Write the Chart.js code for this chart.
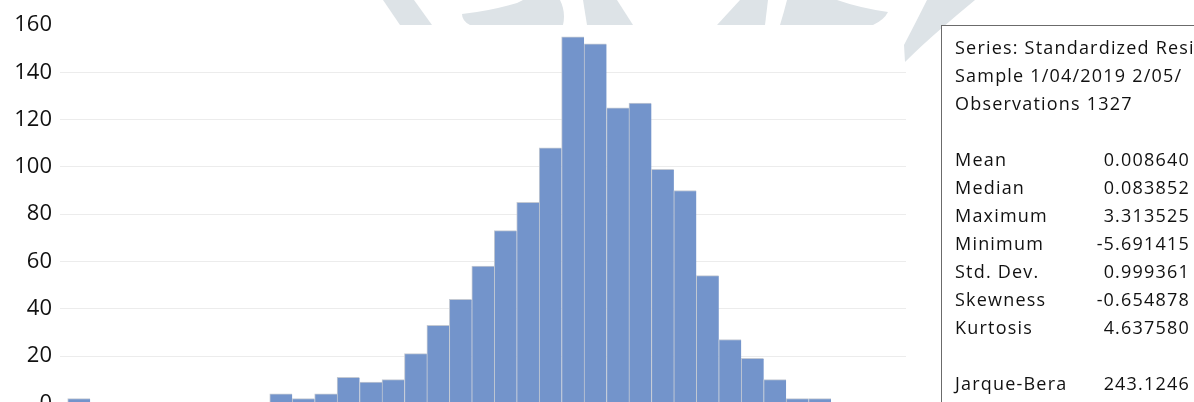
<!DOCTYPE html>
<html>
<head>
<meta charset="utf-8">
<script src="https://cdn.jsdelivr.net/npm/chart.js@4.4.1/dist/chart.umd.min.js"></script>
<style>
  html, body { margin: 0; padding: 0; width: 1194px; height: 402px; overflow: hidden; background: #fff; }
  #logo { position: absolute; left: 0; top: 0; }
  #cover { position: absolute; left: 0; top: 25px; width: 903px; height: 400px; background: #fff; }
  #wrap { position: absolute; left: 0; top: 0; width: 1194px; height: 440px; }
  #stats {
    position: absolute; left: 941px; top: 25px; width: 300px; height: 420px;
    border: 1px solid #6b6b6b; background: #fff;
    font-family: 'Open Sans', sans-serif; font-size: 18px; line-height: 28px; color: #111;
    letter-spacing: 1.2px;
    padding-top: 7px; box-sizing: border-box; white-space: nowrap;
  }
  #stats .row { position: relative; width: 248px; height: 28px; padding-left: 13px; box-sizing: border-box; }
  #stats .row span.v { position: absolute; right: 0; top: 0; }
</style>
</head>
<body>
<!-- faint logo watermark behind the chart -->
<svg id="logo" width="1194" height="80">
  <g fill="#dde3e7">
    <polygon points="383,0 414,0 432,25 400,25"/>
    <path d="M462,14 Q490,11 517,3 L523,0 L560,0 Q566,12 563,25 L470,25 Q462,21 462,14 Z"/>
    <polygon points="583,0 617,0 633,25 587,25"/>
    <polygon points="740,0 768,0 765,25 717,25"/>
    <path d="M787,0 L837,0 Q860,8 888,12 Q884,20 873,25 L780,25 Q784,12 787,0 Z"/>
    <path d="M927,0 L975,0 Q958,14 943,27 Q922,45 905,62 L904,45 Q916,22 927,0 Z"/>
  </g>
</svg>
<div id="cover"></div>
<div id="wrap"><canvas id="hist"></canvas></div>
<div id="stats"></div>

<script>
// histogram bins (index) and counts
const bins = [0, 1, 2, 3, 4, 5, 6, 7, 8, 9, 10, 11, 12, 13, 14, 15, 16,
  17, 18, 19, 20, 21, 22, 23, 24, 25, 26, 27, 28, 29, 30, 31, 32, 33];
const counts = [2, 0, 0, 0, 0, 0, 0, 0, 0, 4, 2, 4, 11, 9, 10, 21, 33,
  44, 58, 73, 85, 108, 155, 152, 125, 127, 99, 90, 54, 27, 19, 10, 2, 2];
const yTicks = [0, 20, 40, 60, 80, 100, 120, 140, 160];

const headerLines = ['Series: Standardized Residuals', 'Sample 1/04/2019 2/05/', 'Observations 1327'];
const statNames = ['Mean', 'Median', 'Maximum', 'Minimum', 'Std. Dev.', 'Skewness', 'Kurtosis'];
const statValues = ['0.008640', '0.083852', '3.313525', '-5.691415', '0.999361', '-0.654878', '4.637580'];
const testNames = ['Jarque-Bera'];
const testValues = ['243.1246'];

function buildStats() {
  const box = document.getElementById('stats');
  const addRow = (label, value) => {
    const row = document.createElement('div');
    row.className = 'row';
    row.textContent = label;
    if (value !== undefined) {
      const v = document.createElement('span');
      v.className = 'v';
      v.textContent = value;
      row.appendChild(v);
    }
    box.appendChild(row);
  };
  headerLines.forEach(l => addRow(l));
  addRow('');
  statNames.forEach((n, i) => addRow(n, statValues[i]));
  addRow('');
  testNames.forEach((n, i) => addRow(n, testValues[i]));
}

function createChart() {
  const ctx = document.getElementById('hist').getContext('2d');
  new Chart(ctx, {
    type: 'bar',
    data: {
      datasets: [{
        data: bins.map((b, i) => ({ x: b, y: counts[i] })),
        backgroundColor: '#7394cb',
        borderColor: '#c3c9d3',
        borderWidth: { top: 1, left: 1, right: 0, bottom: 0 },
        borderSkipped: false,
        categoryPercentage: 1,
        barPercentage: 1
      }]
    },
    options: {
      responsive: true,
      maintainAspectRatio: false,
      animation: false,
      layout: { padding: { left: 0, right: 288, top: 25, bottom: 36.7 } },
      scales: {
        x: {
          type: 'linear',
          bounds: 'data',
          offset: false,
          min: -0.843,
          max: 36.84,
          display: false,
          afterBuildTicks: s => { s.ticks = bins.map(v => ({ value: v })); }
        },
        y: {
          min: yTicks[0],
          max: yTicks[yTicks.length - 1],
          afterFit: s => { s.width = 60; },
          afterBuildTicks: s => { s.ticks = yTicks.map(v => ({ value: v })); },
          border: { display: false },
          grid: {
            drawTicks: false,
            lineWidth: 1,
            color: c => (c.tick && c.tick.value === 160) ? 'rgba(0,0,0,0)' : '#ececec'
          },
          ticks: {
            padding: 8,
            color: '#111',
            font: { family: 'Open Sans', size: 22 }
          }
        }
      },
      plugins: {
        legend: { display: false },
        tooltip: { enabled: false }
      }
    }
  });
}

buildStats();
document.fonts.load('22px "Open Sans"').then(createChart, createChart);
</script>
</body>
</html>
